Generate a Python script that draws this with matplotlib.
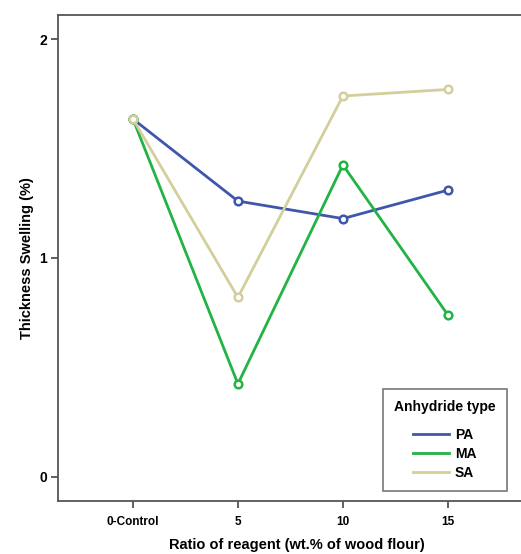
import matplotlib.pyplot as plt

plt.rcParams['font.family'] = ['Liberation Sans', 'DejaVu Sans']
plt.rcParams['font.weight'] = 'bold'

# ratio of reagent (categories)
ratios = ['0-Control', '5', '10', '15']

# thickness swelling (%) per anhydride type
pa = [1.635, 1.26, 1.18, 1.31]
ma = [1.635, 0.425, 1.425, 0.74]
sa = [1.635, 0.82, 1.74, 1.77]

colors = {'PA': '#3f57ab', 'MA': '#22b345', 'SA': '#d3cf9c'}

fig = plt.figure(figsize=(5.21, 5.54), dpi=100)
ax = fig.add_axes([58 / 521, 1 - 501 / 554, (535 - 58) / 521, (501 - 15) / 554])

x = list(range(len(ratios)))
for name, vals in (('PA', pa), ('MA', ma), ('SA', sa)):
    ax.plot(x, vals, '-o', color=colors[name], lw=2.0, ms=5.5,
            mfc='white', mew=1.8, label=name)

ax.set_xlim(-0.714, 3.83)
ax.set_ylim(-0.11, 2.11)
ax.set_xticks(x)
ax.set_xticklabels(ratios)
ax.set_yticks([0, 1, 2])
ax.set_yticklabels(['0', '1', '2'])
ax.tick_params(axis='both', direction='out', length=5, width=1.2,
               color='#444444')
ax.tick_params(axis='x', pad=6, labelsize=8.5)
ax.tick_params(axis='y', pad=3, labelsize=10)
ax.spines['right'].set_visible(False)
for s in ('left', 'bottom', 'top'):
    ax.spines[s].set_color('#555555')
    ax.spines[s].set_linewidth(1.3)

ax.set_xlabel('Ratio of reagent (wt.% of wood flour)', fontsize=10.5,
              fontweight='bold', labelpad=7)
ax.set_ylabel('Thickness Swelling (%)', fontsize=10.5, fontweight='bold',
              labelpad=4)

leg = ax.legend(title='Anhydride type', loc='lower left',
                bbox_to_anchor=((383 - 58) / 477, (501 - 491) / 486),
                borderaxespad=0,
                frameon=True, fancybox=False, edgecolor='#555555',
                fontsize=10, title_fontsize=10, handlelength=2.6,
                handletextpad=0.4, labelspacing=0.35, borderpad=0.8,
                markerscale=0)
leg.get_frame().set_linewidth(1.2)
leg.get_title().set_fontweight('bold')
leg._legend_box.sep = 10
for h in leg.legend_handles:
    h.set_marker('')

fig.savefig('out.png', dpi=100)
